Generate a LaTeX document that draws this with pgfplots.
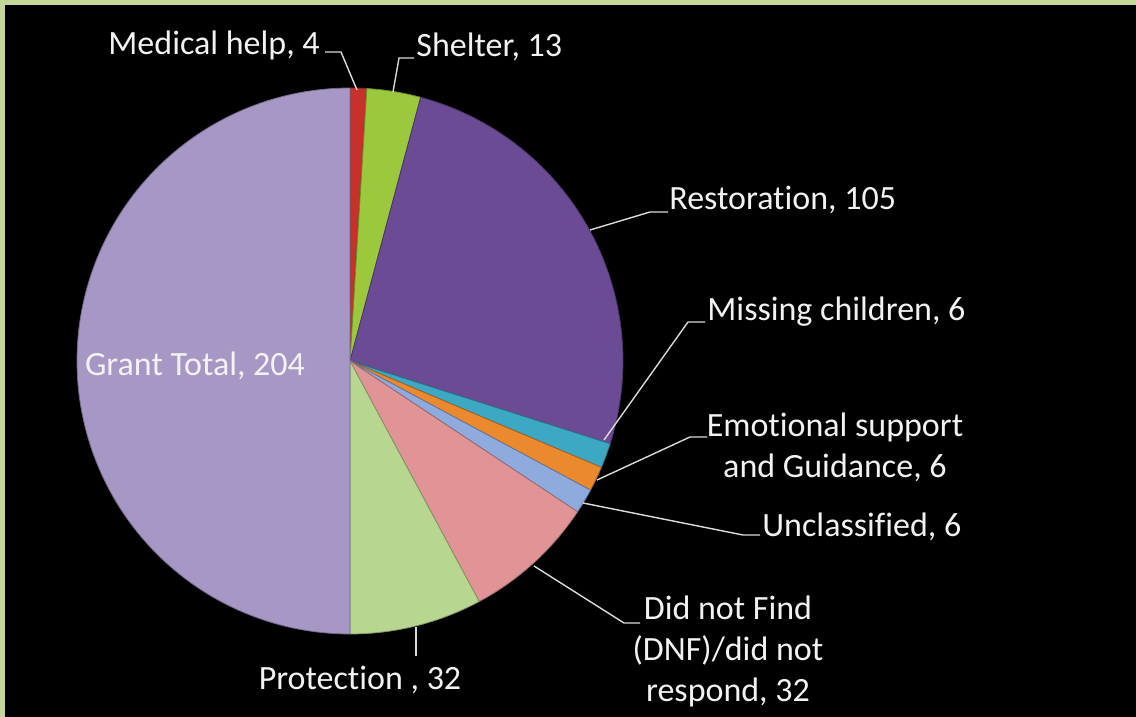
\documentclass[border=0pt]{standalone}
\usepackage{pgfplots}
\pgfplotsset{compat=1.18}
\usepackage{fontspec}
\setmainfont{Carlito}[Ligatures=NoCommon]
\newcommand\nl{\kern0pt }
\definecolor{cMed}{RGB}{200,48,44}
\definecolor{cShel}{RGB}{155,200,60}
\definecolor{cRest}{RGB}{106,75,148}
\definecolor{cMiss}{RGB}{60,168,195}
\definecolor{cEmo}{RGB}{235,137,46}
\definecolor{cUnc}{RGB}{143,170,220}
\definecolor{cDNF}{RGB}{224,148,150}
\definecolor{cProt}{RGB}{184,214,143}
\definecolor{cGT}{RGB}{166,151,196}
\definecolor{cBorder}{RGB}{196,215,155}
\definecolor{cText}{RGB}{242,242,242}
\definecolor{cLead}{RGB}{217,217,217}
% data (values)
\def\vMed{4}
\def\vShel{13}
\def\vRest{105}
\def\vMiss{6}
\def\vEmo{6}
\def\vUnc{6}
\def\vDNF{32}
\def\vProt{32}
\def\vGT{204}
\begin{document}
\begin{tikzpicture}
\pgfmathsetmacro\tot{\vMed+\vShel+\vRest+\vMiss+\vEmo+\vUnc+\vDNF+\vProt+\vGT}
\pgfmathsetmacro\k{360/\tot}
\pgfmathsetmacro\aA{90}
\pgfmathsetmacro\aB{\aA-\vMed*\k}
\pgfmathsetmacro\aC{\aB-\vShel*\k}
\pgfmathsetmacro\aD{\aC-\vRest*\k}
\pgfmathsetmacro\aE{\aD-\vMiss*\k}
\pgfmathsetmacro\aF{\aE-\vEmo*\k}
\pgfmathsetmacro\aG{\aF-\vUnc*\k}
\pgfmathsetmacro\aH{\aG-\vDNF*\k}
\pgfmathsetmacro\aI{\aH-\vProt*\k}
\pgfmathsetmacro\aJ{\aI-\vGT*\k}
\fill[black] (0,0) rectangle (568pt,358.5pt);
\fill[cBorder] (0,356pt) rectangle (568pt,358.5pt);
\fill[cBorder] (0,0) rectangle (2.5pt,358.5pt);
\begin{axis}[at={(0,0)}, anchor=south west, scale only axis,
  width=568pt, height=358.5pt, xmin=0, xmax=1136, ymin=0, ymax=717,
  y dir=reverse, hide axis, clip=false,
  every axis plot/.append style={line width=0.4pt, line join=round}]
\addplot[fill=cMed, draw=cMed!70!black, domain=\aB:\aA, samples=10] ({350+273*cos(x)},{361-273*sin(x)}) -- (350,361) -- cycle;
\addplot[fill=cShel, draw=cShel!70!black, domain=\aC:\aB, samples=20] ({350+273*cos(x)},{361-273*sin(x)}) -- (350,361) -- cycle;
\addplot[fill=cRest, draw=cRest!70!black, domain=\aD:\aC, samples=80] ({350+273*cos(x)},{361-273*sin(x)}) -- (350,361) -- cycle;
\addplot[fill=cMiss, draw=cMiss!70!black, domain=\aE:\aD, samples=10] ({350+273*cos(x)},{361-273*sin(x)}) -- (350,361) -- cycle;
\addplot[fill=cEmo, draw=cEmo!70!black, domain=\aF:\aE, samples=10] ({350+273*cos(x)},{361-273*sin(x)}) -- (350,361) -- cycle;
\addplot[fill=cUnc, draw=cUnc!70!black, domain=\aG:\aF, samples=10] ({350+273*cos(x)},{361-273*sin(x)}) -- (350,361) -- cycle;
\addplot[fill=cDNF, draw=cDNF!70!black, domain=\aH:\aG, samples=30] ({350+273*cos(x)},{361-273*sin(x)}) -- (350,361) -- cycle;
\addplot[fill=cProt, draw=cProt!70!black, domain=\aI:\aH, samples=30] ({350+273*cos(x)},{361-273*sin(x)}) -- (350,361) -- cycle;
\addplot[fill=cGT, draw=cGT!70!black, domain=\aJ:\aI, samples=120] ({350+273*cos(x)},{361-273*sin(x)}) -- (350,361) -- cycle;
% leader lines
\draw[cLead, line width=0.7pt] (357,90) -- (341,52) -- (325,52);
\draw[cLead, line width=0.7pt] (393,92) -- (399,58) -- (414,58);
\draw[cLead, line width=0.7pt] (590,230) -- (650,212) -- (668,212);
\draw[cLead, line width=0.7pt] (604,440) -- (688,322) -- (705,322);
\draw[cLead, line width=0.7pt] (597,480) -- (690,437) -- (707,437);
\draw[cLead, line width=0.7pt] (583,503) -- (743,535) -- (760,535);
\draw[cLead, line width=0.7pt] (534,566) -- (624,623) -- (640,623);
\draw[cLead, line width=0.7pt] (416,627) -- (416,656);
% labels
\begin{scope}[every node/.style={text=cText, inner sep=0pt, font=\fontsize{17}{20.5}\selectfont}]
\node[anchor=west] at (108,45) {Medical help, 4};
\node[anchor=west] at (416,47) {Shelter, 13};
\node[anchor=west] at (669,200) {Restorat\nl ion, 105};
\node[anchor=west] at (707,312) {Missing children, 6};
\node[align=center] at (835,447) {Emot\nl ional support\\and Guidance, 6};
\node[anchor=west] at (762,527) {Unclassif\nl ied, 6};
\node[align=center] at (728,651) {Did not Find\\(DNF)/did not\\respond, 32};
\node[anchor=center] at (360,680) {Protect\nl ion , 32};
\node[anchor=center] at (195,366) {Grant Total, 204};
\end{scope}
\end{axis}
\end{tikzpicture}
\end{document}
